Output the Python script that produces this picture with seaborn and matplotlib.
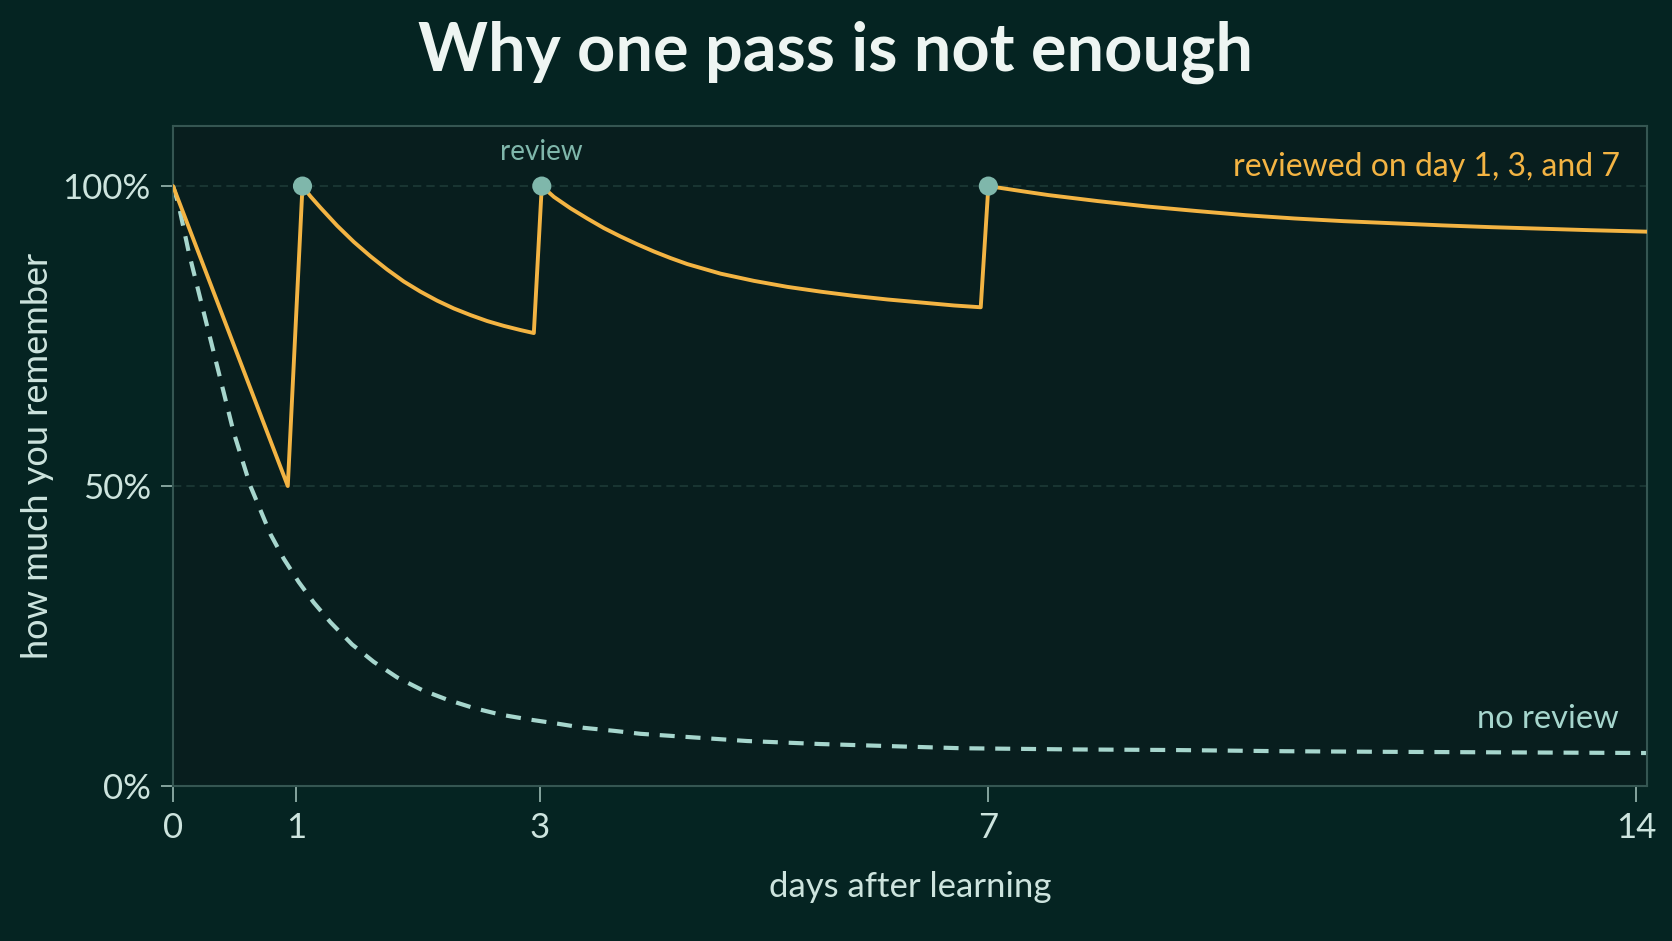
import numpy as np
import pandas as pd
import matplotlib
matplotlib.use("Agg")
import matplotlib.pyplot as plt
import seaborn as sns

# values (days, % remembered)
no_review_days = [0, 0.046, 0.127, 0.248, 0.384, 0.492, 0.627, 0.694, 0.789, 0.897,
                  1.019, 1.142, 1.28, 1.458, 1.636, 1.829, 2.034, 2.24, 2.459,
                  2.679, 2.912, 3.158, 3.395, 3.663, 3.901, 4.139, 4.85, 5.5,
                  6.75, 7.9, 9.0, 10.2, 11.3, 12.7, 14.12]
no_review_pct = [100, 96.8, 89.0, 79.0, 67.8, 58.9, 50.0, 46.7, 42.0, 37.9,
                 34.0, 30.6, 27.3, 23.6, 20.7, 18.1, 16.0, 14.4, 13.0,
                 11.9, 11.1, 10.4, 9.7, 9.2, 8.7, 8.4, 7.5, 7.0,
                 6.3, 6.1, 6.0, 5.8, 5.7, 5.6, 5.5]

reviewed_days = [0, 0.93, 1.05, 1.115, 1.198, 1.335, 1.472, 1.609, 1.746, 1.883,
                 2.021, 2.158, 2.295, 2.432, 2.57, 2.706, 2.844, 2.953,
                 3.02, 3.128, 3.276, 3.425, 3.573, 3.722, 3.871, 4.019, 4.168,
                 4.317, 4.614, 4.911, 5.209, 5.506, 5.803, 6.1, 6.397, 6.694, 6.932,
                 7.0, 7.384, 7.65, 8.182, 8.715, 9.247, 9.78, 10.312, 10.844,
                 11.377, 11.909, 12.441, 12.974, 13.506, 14.12]
reviewed_pct = [100, 50, 100, 98.3, 96.4, 93.4, 90.7, 88.3, 86.1, 84.1,
                82.4, 80.9, 79.6, 78.5, 77.5, 76.7, 76.0, 75.5,
                100, 98.2, 96.3, 94.6, 93.0, 91.6, 90.3, 89.1, 88.0,
                87.0, 85.4, 84.2, 83.2, 82.4, 81.7, 81.1, 80.6, 80.1, 79.8,
                100, 99.1, 98.5, 97.5, 96.6, 95.85, 95.15, 94.6, 94.15,
                93.8, 93.45, 93.15, 92.9, 92.65, 92.4]

review_days = [1.05, 3.02, 7.0]
review_pct = [100, 100, 100]

day_ticks = [0, 1, 3, 7, 14]
pct_ticks = [0, 50, 100]

BG = "#052422"
AX_BG = "#081e1e"
ORANGE = "#f3b443"
MINT = "#a6d6cd"
DOT = "#7fb7ab"
TEXT = "#cde4de"
SPINE = "#355652"
GRID = "#1d3a37"

sns.set_theme(style="dark")
plt.rcParams["font.family"] = ["Lato", "DejaVu Sans"]

no_rev = pd.DataFrame({"day": no_review_days, "pct": np.array(no_review_pct) / 100})
rev = pd.DataFrame({"day": reviewed_days, "pct": np.array(reviewed_pct) / 100})
dots = pd.DataFrame({"day": review_days, "pct": np.array(review_pct) / 100})

# the day axis in the reference is slightly compressed toward the right
anchor_days = [0, 1, 3, 7, 14, 20]
anchor_pos = [0, 123.3, 366.3, 814.9, 1462, 2017]


def fwd(x):
    return np.interp(x, anchor_days, anchor_pos)


def inv(p):
    return np.interp(p, anchor_pos, anchor_days)


fig = plt.figure(figsize=(16.72, 9.41), dpi=100, facecolor=BG)
ax = fig.add_axes([0.1035, 0.1647, 0.8815, 0.7013])
ax.set_facecolor(AX_BG)
ax.set_xscale("function", functions=(fwd, inv))

for y in [0.5, 1.0]:
    ax.axhline(y, color=GRID, lw=1.2, ls=(0, (5, 3)), zorder=1)

sns.lineplot(data=no_rev, x="day", y="pct", ax=ax, color=MINT, lw=3.0,
             linestyle=(0, (3.6, 2.6)), estimator=None, sort=False, zorder=2)
sns.lineplot(data=rev, x="day", y="pct", ax=ax, color=ORANGE, lw=2.8,
             estimator=None, sort=False, zorder=3)
sns.scatterplot(data=dots, x="day", y="pct", ax=ax, color=DOT, s=190,
                edgecolor="none", zorder=4)

ax.set_xlim(0, 14.12)
ax.set_ylim(0, 1.1)
ax.set_xticks(day_ticks)
ax.set_xticklabels([str(d) for d in day_ticks])
ax.set_yticks([p / 100 for p in pct_ticks])
ax.set_yticklabels([f"{p}%" for p in pct_ticks])
ax.minorticks_off()

ax.tick_params(axis="x", direction="out", length=11.5, width=1.2, color="#9bbab3",
               labelsize=25, labelcolor=TEXT, pad=7, bottom=True)
ax.tick_params(axis="y", direction="out", length=9, width=1.2, color="#9bbab3",
               labelsize=25, labelcolor=TEXT, pad=7, left=True)
for s in ax.spines.values():
    s.set_visible(True)
    s.set_color(SPINE)
    s.set_linewidth(1.5)
ax.grid(False)

ax.set_xlabel("days after learning", fontsize=25, color=TEXT, labelpad=20)
ax.set_ylabel("how much you remember", fontsize=26, color=TEXT, labelpad=6)

ax.text(3.02, 1.057, "review", fontsize=20, color=DOT, ha="center", va="center")
ax.text(13.83, 1.032, "reviewed on day 1, 3, and 7", fontsize=23, color=ORANGE,
        ha="right", va="center")
ax.text(13.82, 0.111, "no review", fontsize=23.5, color=MINT, ha="right", va="center")

fig.suptitle("Why one pass is not enough", fontsize=48, fontweight="bold",
             color="#eef5f2", y=0.944, va="center")

fig.savefig("out.png", dpi=100, facecolor=BG)
